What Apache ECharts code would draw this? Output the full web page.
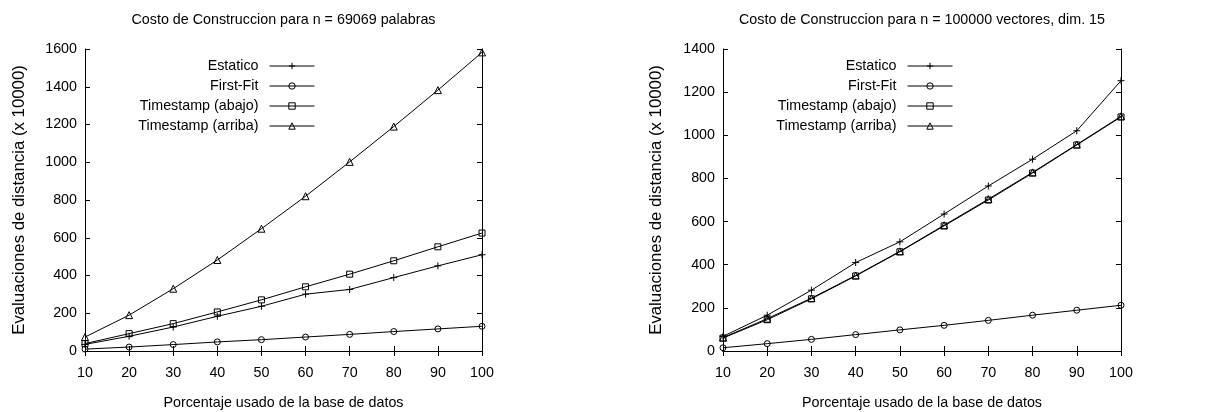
<!DOCTYPE html>
<html>
<head>
<meta charset="utf-8">
<script src="https://cdn.jsdelivr.net/npm/echarts@6/dist/echarts.min.js"></script>
<style>
body { margin: 0; background: #fff; }
#chart { width: 1231px; height: 412px; }
</style>
</head>
<body>
<div id="chart"></div>
<script>
// porcentaje usado de la base de datos
var pct = [10, 20, 30, 40, 50, 60, 70, 80, 90, 100];
var seriesNames = ['Estatico', 'First-Fit', 'Timestamp (abajo)', 'Timestamp (arriba)'];

// grafico izquierdo: n = 69069 palabras
var palEstatico = [35, 78, 127, 184, 237, 301, 326, 389, 451, 510];
var palFirstFit = [10, 21, 34, 48, 60, 74, 88, 103, 117, 131];
var palAbajo    = [39, 92, 145, 207, 271, 340, 407, 478, 552, 625];
var palArriba   = [74, 190, 330, 482, 648, 820, 1002, 1189, 1382, 1582];

// grafico derecho: n = 100000 vectores, dim. 15
var vecEstatico = [68, 166, 282, 410, 506, 635, 765, 889, 1021, 1253];
var vecFirstFit = [15, 34, 54, 76, 98, 119, 142, 166, 189, 212];
var vecAbajo    = [60, 145, 242, 348, 460, 580, 700, 825, 955, 1085];
var vecArriba   = [62, 150, 245, 350, 462, 583, 704, 828, 957, 1088];

var FONT = "'Liberation Sans', Arial, sans-serif";
var FS = 14.3;
var symbols = ['path://M0,5L10,5M5,0L5,10', 'circle', 'rect', 'triangle'];
var sizes = [7, 6, 6, 7];

function mkSeries(idx, lists) {
  return lists.map(function (vals, k) {
    return {
      name: seriesNames[k],
      type: 'line',
      xAxisIndex: idx * 2,
      yAxisIndex: idx * 2,
      data: pct.map(function (p, i) { return [p, vals[i]]; }),
      symbol: symbols[k],
      symbolSize: sizes[k],
      showAllSymbol: true,
      lineStyle: { color: '#000', width: 1 },
      itemStyle: { color: 'transparent', borderColor: '#000', borderWidth: 1 },
      animation: false,
      z: 3
    };
  });
}

function plain(v) { return String(v); }

function xAxes(grid) {
  var base = {
    type: 'value', gridIndex: grid, min: 10, max: 100, interval: 10,
    axisLine: { show: true, lineStyle: { color: '#000', width: 1 } },
    axisTick: { show: true, inside: true, length: 5, lineStyle: { color: '#000' } },
    splitLine: { show: false }
  };
  return [
    Object.assign({}, base, {
      position: 'bottom',
      axisLabel: { color: '#000', fontFamily: FONT, fontSize: FS, margin: 15, formatter: plain },
      name: 'Porcentaje usado de la base de datos',
      nameLocation: 'middle', nameGap: 45,
      nameTextStyle: { color: '#000', fontFamily: FONT, fontSize: FS }
    }),
    Object.assign({}, base, { position: 'top', axisLabel: { show: false } })
  ];
}

function yAxes(grid, max, gap) {
  var base = {
    type: 'value', gridIndex: grid, min: 0, max: max, interval: 200,
    axisLine: { show: true, lineStyle: { color: '#000', width: 1 } },
    axisTick: { show: true, inside: true, length: 5, lineStyle: { color: '#000' } },
    splitLine: { show: false }
  };
  return [
    Object.assign({}, base, {
      position: 'left',
      axisLabel: { color: '#000', fontFamily: FONT, fontSize: FS, margin: 8, formatter: plain },
      name: 'Evaluaciones de distancia (x 10000)',
      nameLocation: 'middle', nameGap: gap,
      nameTextStyle: { color: '#000', fontFamily: FONT, fontSize: 16.8 }
    }),
    Object.assign({}, base, { position: 'right', axisLabel: { show: false } })
  ];
}

// una leyenda por fila, para alinear texto a la derecha y los iconos en columna
function legends(iconRight) {
  var rows = [65, 85, 105, 125];
  return seriesNames.map(function (n, k) {
    return {
      data: [n],
      right: 1231 - iconRight,
      top: rows[k] - 6,
      orient: 'horizontal',
      align: 'right',
      padding: 0,
      itemWidth: 45,
      itemHeight: 8,
      selectedMode: false,
      lineStyle: { color: '#000', width: 1 },
      itemStyle: { color: 'transparent', borderColor: '#000', borderWidth: 1 },
      textStyle: { color: '#000', fontFamily: FONT, fontSize: FS, padding: [0, 6, 0, 0] }
    };
  });
}

var chart = echarts.init(document.getElementById('chart'));
chart.setOption({
  backgroundColor: '#fff',
  animation: false,
  title: [
    { text: 'Costo de Construccion para n = 69069 palabras', left: 283.5, top: 13, textAlign: 'center', padding: 0,
      textStyle: { color: '#000', fontFamily: FONT, fontSize: FS, fontWeight: 'normal' } },
    { text: 'Costo de Construccion para n = 100000 vectores, dim. 15', left: 922, top: 13, textAlign: 'center', padding: 0,
      textStyle: { color: '#000', fontFamily: FONT, fontSize: FS, fontWeight: 'normal' } }
  ],
  legend: legends(315).concat(legends(953)),
  grid: [
    { left: 85, top: 49, width: 397, height: 302, outerBoundsMode: 'none' },
    { left: 723, top: 49, width: 398, height: 302, outerBoundsMode: 'none' }
  ],
  xAxis: xAxes(0).concat(xAxes(1)),
  yAxis: yAxes(0, 1600, 57).concat(yAxes(1, 1400, 58)),
  series: mkSeries(0, [palEstatico, palFirstFit, palAbajo, palArriba])
    .concat(mkSeries(1, [vecEstatico, vecFirstFit, vecAbajo, vecArriba]))
});
</script>
</body>
</html>
